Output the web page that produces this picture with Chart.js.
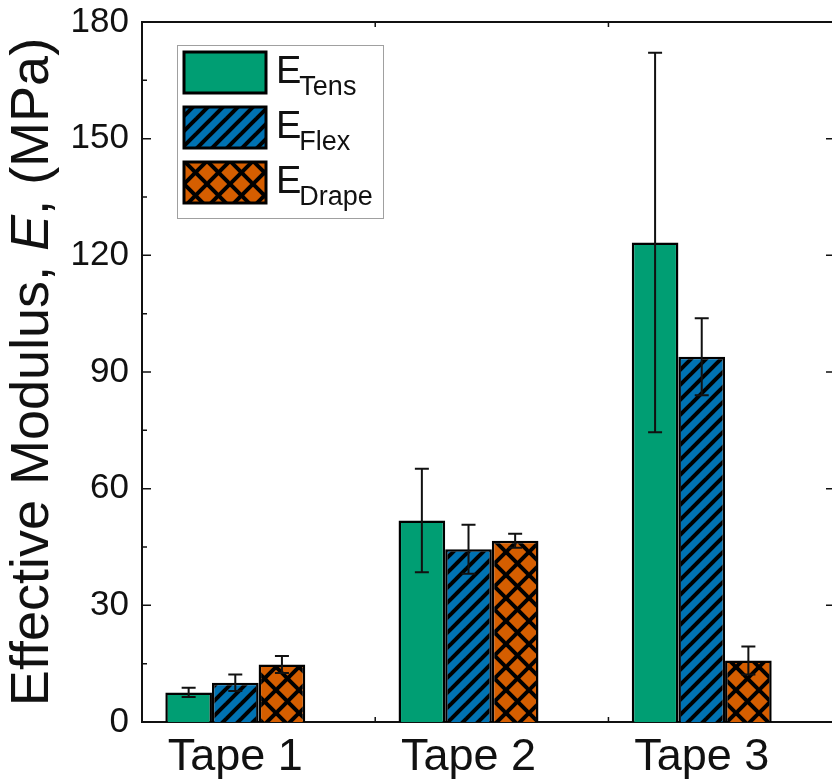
<!DOCTYPE html>
<html>
<head>
<meta charset="utf-8">
<script src="https://cdn.jsdelivr.net/npm/chart.js@4/dist/chart.umd.min.js"></script>
<style>
  html, body { margin: 0; padding: 0; background: #fff; overflow: hidden; }
  canvas { display: block; }
</style>
</head>
<body>
<canvas id="modulusChart" width="846" height="782"></canvas>
<script>
// categories and where they sit on the x axis
const categories = ['Tape 1', 'Tape 2', 'Tape 3'];
const catPos = [1, 2, 3];

// series (MPa)
const eTens = [7.6, 51.8, 123.3];
const eTensErr = [1.2, 13.3, 48.8];
const eFlex = [10.1, 44.4, 93.9];
const eFlexErr = [2.1, 6.3, 9.9];
const eDrape = [14.8, 46.6, 15.8];
const eDrapeErr = [2.2, 1.8, 3.6];

const seriesSub = ['Tens', 'Flex', 'Drape'];
const yTicks = [0, 30, 60, 90, 120, 150, 180];
const yMinorTicks = [15, 45, 75, 105, 135, 165];
const xMinorTicks = [1.6, 2.6];

const FONT = '"Liberation Sans", Arial, sans-serif';

const makeStripes = (color) => {
  const s = 15;
  const c = document.createElement('canvas');
  c.width = s; c.height = s;
  const g = c.getContext('2d');
  g.fillStyle = color;
  g.fillRect(0, 0, s, s);
  g.strokeStyle = '#000';
  g.lineWidth = 4;
  [0, s, 2 * s].forEach(k => {
    g.beginPath();
    g.moveTo(k + 5, -5);
    g.lineTo(k - 20, 20);
    g.stroke();
  });
  return g.createPattern(c, 'repeat');
};

const makeCross = (color) => {
  const s = 23;
  const c = document.createElement('canvas');
  c.width = s; c.height = s;
  const g = c.getContext('2d');
  g.fillStyle = color;
  g.fillRect(0, 0, s, s);
  g.strokeStyle = '#000';
  g.lineWidth = 4;
  [0, s, 2 * s].forEach(k => {
    g.beginPath();
    g.moveTo(k + 5, -5);
    g.lineTo(k - 30, 30);
    g.stroke();
  });
  [-s, 0, s].forEach(k => {
    g.beginPath();
    g.moveTo(k - 5, -5);
    g.lineTo(k + 30, 30);
    g.stroke();
  });
  return g.createPattern(c, 'repeat');
};

const toPoints = (vals) => vals.map((v, i) => ({ x: catPos[i], y: v }));

const errors = [eTensErr, eFlexErr, eDrapeErr];

// error bars, drawn from the y scale
const errorBars = {
  id: 'errorBars',
  afterDatasetsDraw(chart) {
    const ctx = chart.ctx;
    const y = chart.scales.y;
    ctx.save();
    ctx.strokeStyle = '#111';
    ctx.lineWidth = 2;
    chart.data.datasets.forEach((ds, di) => {
      const meta = chart.getDatasetMeta(di);
      meta.data.forEach((bar, i) => {
        const v = ds.data[i].y;
        const e = errors[di][i];
        const top = y.getPixelForValue(v + e);
        const bot = y.getPixelForValue(v - e);
        ctx.beginPath();
        ctx.moveTo(bar.x, top); ctx.lineTo(bar.x, bot);
        ctx.moveTo(bar.x - 7, top); ctx.lineTo(bar.x + 7, top);
        ctx.moveTo(bar.x - 7, bot); ctx.lineTo(bar.x + 7, bot);
        ctx.stroke();
      });
    });
    ctx.restore();
  }
};

// frame, inward ticks, legend and the y title
const decorations = {
  id: 'decorations',
  afterDraw(chart) {
    const ctx = chart.ctx;
    const a = chart.chartArea;
    const x = chart.scales.x;
    const y = chart.scales.y;
    ctx.save();
    ctx.strokeStyle = '#111';
    ctx.lineWidth = 2;
    ctx.beginPath();
    ctx.moveTo(a.left, a.top); ctx.lineTo(a.right, a.top); ctx.lineTo(a.right, a.bottom);
    ctx.stroke();

    ctx.lineWidth = 1.5;
    ctx.beginPath();
    yTicks.forEach(v => {
      const p = y.getPixelForValue(v);
      ctx.moveTo(a.left, p); ctx.lineTo(a.left + 9, p);
      ctx.moveTo(a.right, p); ctx.lineTo(a.right - 11, p);
    });
    yMinorTicks.forEach(v => {
      const p = y.getPixelForValue(v);
      ctx.moveTo(a.left, p); ctx.lineTo(a.left + 5, p);
    });
    xMinorTicks.forEach(v => {
      const p = x.getPixelForValue(v);
      ctx.moveTo(p, a.bottom); ctx.lineTo(p, a.bottom - 5);
      ctx.moveTo(p, a.top); ctx.lineTo(p, a.top + 5);
    });
    ctx.stroke();

    // legend
    ctx.lineWidth = 1;
    ctx.strokeStyle = '#a0a0a0';
    ctx.strokeRect(177.5, 45.5, 206, 173);
    chart.data.datasets.forEach((ds, i) => {
      const top = 52 + i * 55;
      ctx.fillStyle = ds.backgroundColor;
      ctx.fillRect(184, top, 82, 41);
      ctx.strokeStyle = '#000';
      ctx.lineWidth = 3;
      ctx.strokeRect(184, top, 82, 41);
      ctx.fillStyle = '#111';
      ctx.textBaseline = 'alphabetic';
      ctx.textAlign = 'left';
      ctx.font = '38px ' + FONT;
      ctx.fillText('E', 276, top + 31);
      const w = ctx.measureText('E').width;
      ctx.font = '27px ' + FONT;
      ctx.fillText(seriesSub[i], 276 + w - 2, top + 43);
    });

    // y axis title with italic E
    const parts = [
      ['Effective Modulus, ', ''],
      ['E', 'italic '],
      [', (MPa)', '']
    ];
    ctx.translate(33, 372);
    ctx.rotate(-Math.PI / 2);
    ctx.fillStyle = '#111';
    ctx.textBaseline = 'middle';
    let total = 0;
    parts.forEach(p => { ctx.font = p[1] + '54px ' + FONT; total += ctx.measureText(p[0]).width; });
    let cx = -total / 2;
    parts.forEach(p => {
      ctx.font = p[1] + '54px ' + FONT;
      ctx.fillText(p[0], cx, 0);
      cx += ctx.measureText(p[0]).width;
    });
    ctx.restore();
  }
};

const ctx = document.getElementById('modulusChart').getContext('2d');

new Chart(ctx, {
  type: 'bar',
  data: {
    datasets: [
      { label: 'E_Tens', data: toPoints(eTens), backgroundColor: '#009E73' },
      { label: 'E_Flex', data: toPoints(eFlex), backgroundColor: makeStripes('#0072B2') },
      { label: 'E_Drape', data: toPoints(eDrape), backgroundColor: makeCross('#D55E00') }
    ]
  },
  options: {
    responsive: false,
    animation: false,
    layout: { padding: { top: 22, right: 9, left: 0, bottom: 0 } },
    datasets: {
      bar: {
        borderColor: '#000',
        borderWidth: 2.5,
        barPercentage: 1,
        categoryPercentage: 0.6
      }
    },
    plugins: {
      legend: { display: false },
      tooltip: { enabled: false }
    },
    scales: {
      x: {
        type: 'linear',
        offset: false,
        min: 0.6,
        max: 3.58,
        grid: { display: false, offset: false },
        border: { display: true, color: '#111', width: 2 },
        afterBuildTicks: (s) => { s.ticks = catPos.map(v => ({ value: v })); },
        afterFit: (s) => { s.height = 60; s.paddingLeft = 0; s.paddingRight = 0; },
        ticks: {
          color: '#111',
          padding: 1,
          maxRotation: 0,
          font: { family: FONT, size: 45 },
          callback: (v) => categories[catPos.indexOf(v)]
        }
      },
      y: {
        min: 0,
        max: 180,
        grid: { display: false },
        border: { display: true, color: '#111', width: 2 },
        afterBuildTicks: (s) => { s.ticks = yTicks.map(v => ({ value: v })); },
        afterFit: (s) => { s.width = 142; s.paddingTop = 0; s.paddingBottom = 0; },
        ticks: {
          color: '#111',
          padding: 5,
          font: { family: FONT, size: 35 }
        }
      }
    }
  },
  plugins: [errorBars, decorations]
});
</script>
</body>
</html>
